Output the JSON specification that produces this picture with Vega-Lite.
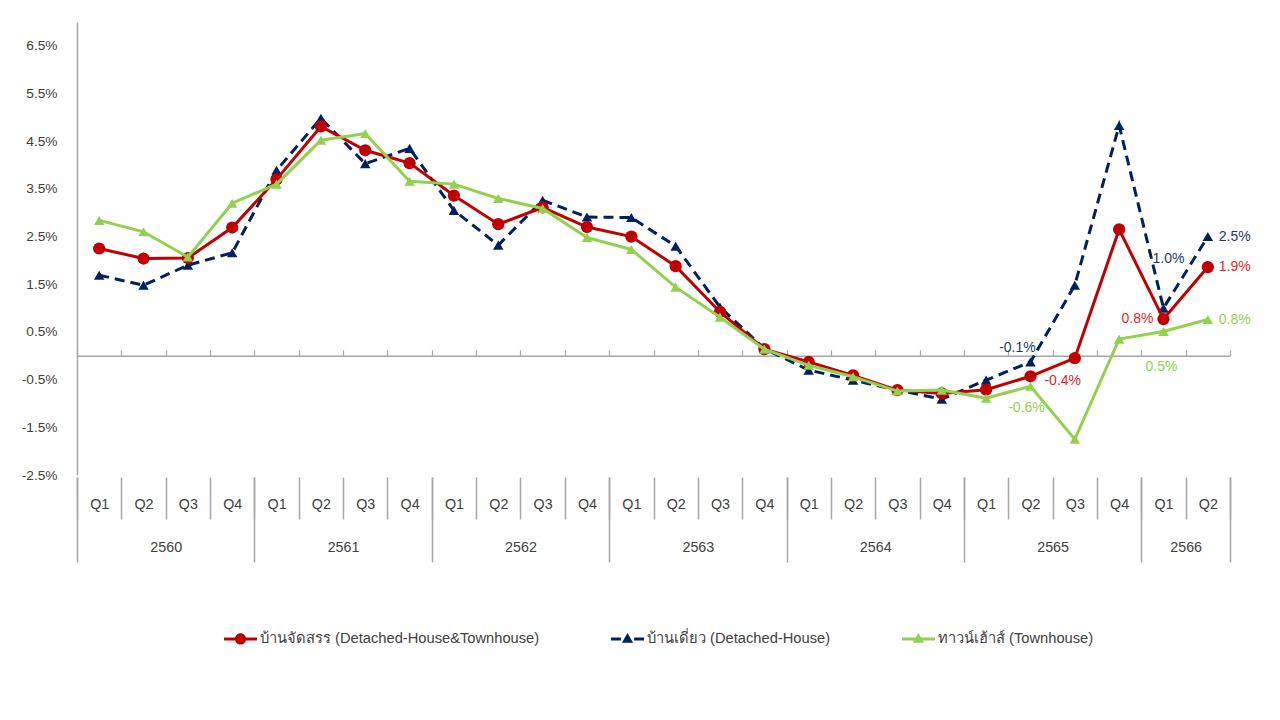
{
  "$schema": "https://vega.github.io/schema/vega-lite/v6.json",
  "autosize": "none",
  "width": 1153,
  "height": 453,
  "padding": {"left": 77, "top": 22, "right": 50, "bottom": 245},
  "background": "white",
  "config": {
    "view": {"stroke": null},
    "font": "Liberation Sans, Arial, sans-serif",
    "locale": {"number": {"decimal": ".", "thousands": ",", "grouping": [3], "currency": ["", ""], "minus": "-"}}
  },
  "data": {"values": [
    {"k":"2560-Q1","s":"บ้านจัดสรร (Detached-House&Townhouse)","v":0.0225},
    {"k":"2560-Q2","s":"บ้านจัดสรร (Detached-House&Townhouse)","v":0.0204},
    {"k":"2560-Q3","s":"บ้านจัดสรร (Detached-House&Townhouse)","v":0.0205},
    {"k":"2560-Q4","s":"บ้านจัดสรร (Detached-House&Townhouse)","v":0.0269},
    {"k":"2561-Q1","s":"บ้านจัดสรร (Detached-House&Townhouse)","v":0.0370},
    {"k":"2561-Q2","s":"บ้านจัดสรร (Detached-House&Townhouse)","v":0.0481},
    {"k":"2561-Q3","s":"บ้านจัดสรร (Detached-House&Townhouse)","v":0.0431},
    {"k":"2561-Q4","s":"บ้านจัดสรร (Detached-House&Townhouse)","v":0.0404},
    {"k":"2562-Q1","s":"บ้านจัดสรร (Detached-House&Townhouse)","v":0.0336},
    {"k":"2562-Q2","s":"บ้านจัดสรร (Detached-House&Townhouse)","v":0.0276},
    {"k":"2562-Q3","s":"บ้านจัดสรร (Detached-House&Townhouse)","v":0.0311},
    {"k":"2562-Q4","s":"บ้านจัดสรร (Detached-House&Townhouse)","v":0.0270},
    {"k":"2563-Q1","s":"บ้านจัดสรร (Detached-House&Townhouse)","v":0.0250},
    {"k":"2563-Q2","s":"บ้านจัดสรร (Detached-House&Townhouse)","v":0.0188},
    {"k":"2563-Q3","s":"บ้านจัดสรร (Detached-House&Townhouse)","v":0.0092},
    {"k":"2563-Q4","s":"บ้านจัดสรร (Detached-House&Townhouse)","v":0.0014},
    {"k":"2564-Q1","s":"บ้านจัดสรร (Detached-House&Townhouse)","v":-0.0013},
    {"k":"2564-Q2","s":"บ้านจัดสรร (Detached-House&Townhouse)","v":-0.0041},
    {"k":"2564-Q3","s":"บ้านจัดสรร (Detached-House&Townhouse)","v":-0.0072},
    {"k":"2564-Q4","s":"บ้านจัดสรร (Detached-House&Townhouse)","v":-0.0079},
    {"k":"2565-Q1","s":"บ้านจัดสรร (Detached-House&Townhouse)","v":-0.0071},
    {"k":"2565-Q2","s":"บ้านจัดสรร (Detached-House&Townhouse)","v":-0.0043},
    {"k":"2565-Q3","s":"บ้านจัดสรร (Detached-House&Townhouse)","v":-0.0005},
    {"k":"2565-Q4","s":"บ้านจัดสรร (Detached-House&Townhouse)","v":0.0265},
    {"k":"2566-Q1","s":"บ้านจัดสรร (Detached-House&Townhouse)","v":0.0077},
    {"k":"2566-Q2","s":"บ้านจัดสรร (Detached-House&Townhouse)","v":0.0186},
    {"k":"2560-Q1","s":"บ้านเดี่ยว (Detached-House)","v":0.0169},
    {"k":"2560-Q2","s":"บ้านเดี่ยว (Detached-House)","v":0.0148},
    {"k":"2560-Q3","s":"บ้านเดี่ยว (Detached-House)","v":0.0190},
    {"k":"2560-Q4","s":"บ้านเดี่ยว (Detached-House)","v":0.0216},
    {"k":"2561-Q1","s":"บ้านเดี่ยว (Detached-House)","v":0.0389},
    {"k":"2561-Q2","s":"บ้านเดี่ยว (Detached-House)","v":0.0498},
    {"k":"2561-Q3","s":"บ้านเดี่ยว (Detached-House)","v":0.0403},
    {"k":"2561-Q4","s":"บ้านเดี่ยว (Detached-House)","v":0.0435},
    {"k":"2562-Q1","s":"บ้านเดี่ยว (Detached-House)","v":0.0305},
    {"k":"2562-Q2","s":"บ้านเดี่ยว (Detached-House)","v":0.0232},
    {"k":"2562-Q3","s":"บ้านเดี่ยว (Detached-House)","v":0.0326},
    {"k":"2562-Q4","s":"บ้านเดี่ยว (Detached-House)","v":0.0291},
    {"k":"2563-Q1","s":"บ้านเดี่ยว (Detached-House)","v":0.0290},
    {"k":"2563-Q2","s":"บ้านเดี่ยว (Detached-House)","v":0.0230},
    {"k":"2563-Q3","s":"บ้านเดี่ยว (Detached-House)","v":0.0102},
    {"k":"2563-Q4","s":"บ้านเดี่ยว (Detached-House)","v":0.0015},
    {"k":"2564-Q1","s":"บ้านเดี่ยว (Detached-House)","v":-0.0030},
    {"k":"2564-Q2","s":"บ้านเดี่ยว (Detached-House)","v":-0.0051},
    {"k":"2564-Q3","s":"บ้านเดี่ยว (Detached-House)","v":-0.0072},
    {"k":"2564-Q4","s":"บ้านเดี่ยว (Detached-House)","v":-0.0091},
    {"k":"2565-Q1","s":"บ้านเดี่ยว (Detached-House)","v":-0.0051},
    {"k":"2565-Q2","s":"บ้านเดี่ยว (Detached-House)","v":-0.0013},
    {"k":"2565-Q3","s":"บ้านเดี่ยว (Detached-House)","v":0.0148},
    {"k":"2565-Q4","s":"บ้านเดี่ยว (Detached-House)","v":0.0483},
    {"k":"2566-Q1","s":"บ้านเดี่ยว (Detached-House)","v":0.0100},
    {"k":"2566-Q2","s":"บ้านเดี่ยว (Detached-House)","v":0.0250},
    {"k":"2560-Q1","s":"ทาวน์เฮ้าส์ (Townhouse)","v":0.0284},
    {"k":"2560-Q2","s":"ทาวน์เฮ้าส์ (Townhouse)","v":0.0260},
    {"k":"2560-Q3","s":"ทาวน์เฮ้าส์ (Townhouse)","v":0.0207},
    {"k":"2560-Q4","s":"ทาวน์เฮ้าส์ (Townhouse)","v":0.0320},
    {"k":"2561-Q1","s":"ทาวน์เฮ้าส์ (Townhouse)","v":0.0360},
    {"k":"2561-Q2","s":"ทาวน์เฮ้าส์ (Townhouse)","v":0.0452},
    {"k":"2561-Q3","s":"ทาวน์เฮ้าส์ (Townhouse)","v":0.0466},
    {"k":"2561-Q4","s":"ทาวน์เฮ้าส์ (Townhouse)","v":0.0366},
    {"k":"2562-Q1","s":"ทาวน์เฮ้าส์ (Townhouse)","v":0.0360},
    {"k":"2562-Q2","s":"ทาวน์เฮ้าส์ (Townhouse)","v":0.0330},
    {"k":"2562-Q3","s":"ทาวน์เฮ้าส์ (Townhouse)","v":0.0309},
    {"k":"2562-Q4","s":"ทาวน์เฮ้าส์ (Townhouse)","v":0.0248},
    {"k":"2563-Q1","s":"ทาวน์เฮ้าส์ (Townhouse)","v":0.0223},
    {"k":"2563-Q2","s":"ทาวน์เฮ้าส์ (Townhouse)","v":0.0144},
    {"k":"2563-Q3","s":"ทาวน์เฮ้าส์ (Townhouse)","v":0.0081},
    {"k":"2563-Q4","s":"ทาวน์เฮ้าส์ (Townhouse)","v":0.0014},
    {"k":"2564-Q1","s":"ทาวน์เฮ้าส์ (Townhouse)","v":-0.0020},
    {"k":"2564-Q2","s":"ทาวน์เฮ้าส์ (Townhouse)","v":-0.0044},
    {"k":"2564-Q3","s":"ทาวน์เฮ้าส์ (Townhouse)","v":-0.0074},
    {"k":"2564-Q4","s":"ทาวน์เฮ้าส์ (Townhouse)","v":-0.0072},
    {"k":"2565-Q1","s":"ทาวน์เฮ้าส์ (Townhouse)","v":-0.0089},
    {"k":"2565-Q2","s":"ทาวน์เฮ้าส์ (Townhouse)","v":-0.0064},
    {"k":"2565-Q3","s":"ทาวน์เฮ้าส์ (Townhouse)","v":-0.0175},
    {"k":"2565-Q4","s":"ทาวน์เฮ้าส์ (Townhouse)","v":0.0035},
    {"k":"2566-Q1","s":"ทาวน์เฮ้าส์ (Townhouse)","v":0.0051},
    {"k":"2566-Q2","s":"ทาวน์เฮ้าส์ (Townhouse)","v":0.0076}
  ]},
  "resolve": {"axis": {"x": "independent"}},
  "encoding": {
    "x": {"field": "k", "type": "ordinal", "scale": {"type": "band", "paddingInner": 0, "paddingOuter": 0}, "axis": null},
    "y": {
      "field": "v", "type": "quantitative",
      "scale": {"domain": [-0.025, 0.07], "nice": false, "zero": false},
      "axis": {
        "values": [-0.025, -0.015, -0.005, 0.005, 0.015, 0.025, 0.035, 0.045, 0.055, 0.065],
        "format": ".1%", "title": null, "grid": false, "ticks": false, "tickSize": 0,
        "domain": true, "domainColor": "#a6a6a6", "domainWidth": 1.5,
        "labelPadding": 20, "labelFontSize": 13.7, "labelColor": "#404040"
      }
    }
  },
  "layer": [
    {
      "transform": [{"filter": "indexof(datum.s, '(Detached-House)') >= 0"}],
      "mark": {"type": "line", "strokeWidth": 3, "strokeDash": [10, 6]},
      "encoding": {
        "x": {"field": "k", "type": "ordinal", "scale": {"type": "band", "paddingInner": 0, "paddingOuter": 0},
          "axis": {"orient": "top", "offset": -333.79, "title": null, "labels": false, "grid": false,
            "domain": true, "domainColor": "#a6a6a6", "domainWidth": 1.5,
            "ticks": true, "tickBand": "extent", "tickSize": 6, "tickColor": "#a6a6a6", "tickWidth": 1.2}},
        "color": {"field": "s", "type": "nominal",
          "scale": {"domain": ["บ้านจัดสรร (Detached-House&Townhouse)", "บ้านเดี่ยว (Detached-House)", "ทาวน์เฮ้าส์ (Townhouse)"],
                    "range": ["#C00000", "#002060", "#92D050"]},
          "legend": {
            "orient": "none", "legendX": 147, "legendY": 600, "direction": "horizontal", "title": null,
            "symbolSize": 1089, "labelFontSize": 14.7, "labelColor": "#404040", "labelOffset": 3,
            "columnPadding": 71, "padding": 0, "labelLimit": 500,
            "encode": {"symbols": {"update": {
              "shape": {"signal": "indexof(datum.value, '&Townhouse') >= 0 ? 'M-1,-0.09L1,-0.09L1,0.09L-1,0.09Z M0.34,0A0.34,0.34 0 1 1 -0.34,0A0.34,0.34 0 1 1 0.34,0Z' : indexof(datum.value, '(Detached-House)') >= 0 ? 'M-1,-0.09L-0.4,-0.09L-0.4,0.09L-1,0.09Z M0.4,-0.09L1,-0.09L1,0.09L0.4,0.09Z M0,-0.36L0.34,0.24L-0.34,0.24Z' : 'M-1,-0.09L1,-0.09L1,0.09L-1,0.09Z M0,-0.36L0.34,0.24L-0.34,0.24Z'"},
              "fill": {"scale": "color", "field": "value"},
              "strokeWidth": {"value": 0},
              "opacity": {"value": 1}
            }}}
          }}
      }
    },
    {
      "transform": [{"filter": "indexof(datum.s, '(Detached-House)') >= 0"}],
      "mark": {"type": "point", "shape": "triangle-up", "filled": true, "size": 110, "opacity": 1},
      "encoding": {"color": {"field": "s", "type": "nominal"}}
    },
    {
      "transform": [{"filter": "indexof(datum.s, '&Townhouse') >= 0"}],
      "mark": {"type": "line", "strokeWidth": 3},
      "encoding": {
        "x": {"field": "k", "type": "ordinal", "scale": {"type": "band", "paddingInner": 0, "paddingOuter": 0},
          "axis": {"orient": "bottom", "offset": 2, "title": null, "grid": false, "domain": false,
            "ticks": true, "tickBand": "extent", "tickSize": 42, "tickColor": "#a6a6a6", "tickWidth": 1.5,
            "labelExpr": "datum.label ? substring(datum.label, 5, 7) : ''",
            "labelAngle": 0, "labelOverlap": false, "labelPadding": -15, "labelBaseline": "middle",
            "labelFontSize": 14.3, "labelColor": "#404040"}},
        "color": {"field": "s", "type": "nominal"}
      }
    },
    {
      "transform": [{"filter": "indexof(datum.s, '&Townhouse') >= 0"}],
      "mark": {"type": "point", "shape": "circle", "filled": true, "size": 150, "opacity": 1},
      "encoding": {"color": {"field": "s", "type": "nominal"}}
    },
    {
      "transform": [{"filter": "indexof(datum.s, '(Townhouse)') >= 0"}],
      "mark": {"type": "line", "strokeWidth": 3},
      "encoding": {
        "x": {"field": "k", "type": "ordinal", "scale": {"type": "band", "paddingInner": 0, "paddingOuter": 0},
          "axis": {"orient": "bottom", "offset": 2, "title": null, "grid": false, "domain": false,
            "ticks": true, "tickBand": "extent", "tickSize": 85, "tickColor": "#a6a6a6", "tickWidth": 1.5,
            "tickOpacity": {"condition": {"test": "datum.extra || indexof(datum.label, 'Q4') >= 0 || datum.label === '2566-Q2'", "value": 1}, "value": 0},
            "labelExpr": "datum.label && ((indexof(datum.label, 'Q2') >= 0 && indexof(datum.label, '2566') < 0) || datum.label === '2566-Q1') ? substring(datum.label, 0, 4) : ''",
            "labelOffset": 22.17, "labelAngle": 0, "labelOverlap": false, "labelPadding": -15, "labelBaseline": "middle",
            "labelFontSize": 14.3, "labelColor": "#404040"}},
        "color": {"field": "s", "type": "nominal"}
      }
    },
    {
      "transform": [{"filter": "indexof(datum.s, '(Townhouse)') >= 0"}],
      "mark": {"type": "point", "shape": "triangle-up", "filled": true, "size": 110, "opacity": 1},
      "encoding": {"color": {"field": "s", "type": "nominal"}}
    },
    {
      "transform": [{"filter": "indexof(datum.s, '(Detached-House)') >= 0 && datum.k === '2565-Q2'"}],
      "mark": {"type": "text", "align": "center", "baseline": "middle", "dx": -13, "dy": -14, "fontSize": 14},
      "encoding": {"text": {"field": "v", "format": ".1%"}, "color": {"value": "#1F3864"}}
    },
    {
      "transform": [{"filter": "indexof(datum.s, '(Detached-House)') >= 0 && datum.k === '2566-Q1'"}],
      "mark": {"type": "text", "align": "center", "baseline": "middle", "dx": 5, "dy": -49, "fontSize": 14},
      "encoding": {"text": {"field": "v", "format": ".1%"}, "color": {"value": "#1F3864"}}
    },
    {
      "transform": [{"filter": "indexof(datum.s, '(Detached-House)') >= 0 && datum.k === '2566-Q2'"}],
      "mark": {"type": "text", "align": "left", "baseline": "middle", "dx": 11, "dy": 0, "fontSize": 14},
      "encoding": {"text": {"field": "v", "format": ".1%"}, "color": {"value": "#1F3864"}}
    },
    {
      "transform": [{"filter": "indexof(datum.s, '&Townhouse') >= 0 && datum.k === '2565-Q2'"}],
      "mark": {"type": "text", "align": "left", "baseline": "middle", "dx": 14, "dy": 5, "fontSize": 14},
      "encoding": {"text": {"field": "v", "format": ".1%"}, "color": {"value": "#E31E24"}}
    },
    {
      "transform": [{"filter": "indexof(datum.s, '&Townhouse') >= 0 && datum.k === '2566-Q1'"}],
      "mark": {"type": "text", "align": "right", "baseline": "middle", "dx": -10, "dy": 0, "fontSize": 14},
      "encoding": {"text": {"field": "v", "format": ".1%"}, "color": {"value": "#E31E24"}}
    },
    {
      "transform": [{"filter": "indexof(datum.s, '&Townhouse') >= 0 && datum.k === '2566-Q2'"}],
      "mark": {"type": "text", "align": "left", "baseline": "middle", "dx": 11, "dy": 0, "fontSize": 14},
      "encoding": {"text": {"field": "v", "format": ".1%"}, "color": {"value": "#E31E24"}}
    },
    {
      "transform": [{"filter": "indexof(datum.s, '(Townhouse)') >= 0 && datum.k === '2565-Q2'"}],
      "mark": {"type": "text", "align": "center", "baseline": "middle", "dx": -4, "dy": 22, "fontSize": 14},
      "encoding": {"text": {"field": "v", "format": ".1%"}, "color": {"value": "#92D050"}}
    },
    {
      "transform": [{"filter": "indexof(datum.s, '(Townhouse)') >= 0 && datum.k === '2566-Q1'"}],
      "mark": {"type": "text", "align": "center", "baseline": "middle", "dx": -2, "dy": 36, "fontSize": 14},
      "encoding": {"text": {"field": "v", "format": ".1%"}, "color": {"value": "#92D050"}}
    },
    {
      "transform": [{"filter": "indexof(datum.s, '(Townhouse)') >= 0 && datum.k === '2566-Q2'"}],
      "mark": {"type": "text", "align": "left", "baseline": "middle", "dx": 11, "dy": 0, "fontSize": 14},
      "encoding": {"text": {"field": "v", "format": ".1%"}, "color": {"value": "#92D050"}}
    }
  ]
}
